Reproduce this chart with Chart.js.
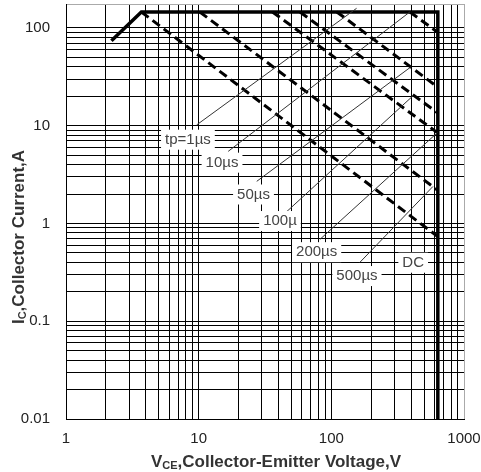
<!DOCTYPE html>
<html>
<head>
<meta charset="utf-8">
<script src="https://cdn.jsdelivr.net/npm/chart.js@4.4.1/dist/chart.umd.min.js"></script>
<style>
  body { margin: 0; background: #fff; }
  #wrap { width: 481px; height: 472px; }
</style>
</head>
<body>
<div id="wrap"><canvas id="soaChart" width="481" height="472"></canvas></div>
<script>
// axis ranges and labelled ticks
const xMin = 1, xMax = 1000;
const yMin = 0.01, yMax = 176;
const xTickLabels = [1, 10, 100, 1000];
const yTickLabels = [0.01, 0.1, 1, 10, 100];

// safe operating area outline (tp = 1us)
const soaV = [2.2, 3.7, 635, 635];
const soaI = [74, 146, 146, 0.01];

// pulse limits (dashed)
const us10V = [391, 630],  us10I = [146, 91];
const us50V = [110, 630],  us50I = [146, 25];
const us100V = [58, 630],  us100I = [146, 13.6];
const us200V = [36, 630],  us200I = [146, 8.5];
const us500V = [10.2, 630], us500I = [146, 2.2];
const dcV = [3.7, 630],    dcI = [146, 0.74];

// leader lines from labels to curves
const lead1V = [9.66, 155],  lead1I = [10.2, 159];
const lead10V = [16.7, 391], lead10I = [5.47, 146];
const lead50V = [27.4, 398], lead50I = [2.70, 40];
const lead100V = [46.3, 412], lead100I = [1.33, 20.2];
const lead200V = [82, 630],  lead200I = [0.687, 8.5];
const lead500V = [164, 583], lead500I = [0.40, 2.39];

// curve labels
const curveNames = ['tp=1µs', '10µs', '50µs', '100µ', '200µs', '500µs', 'DC'];
const nameV = [8.3, 15.0, 25.9, 41.0, 77.5, 156, 414];
const nameI = [7.2, 4.19, 1.98, 1.06, 0.509, 0.29, 0.397];

function pts(vs, is) {
    return vs.map((v, i) => ({ x: v, y: is[i] }));
}

function logGrid(min, max) {
    const vals = [];
    for (let e = Math.floor(Math.log10(min)); Math.pow(10, e) < max; e++) {
        for (let s = 1; s <= 9; s++) {
            const v = parseFloat((s * Math.pow(10, e)).toPrecision(6));
            if (v >= min && v < max) vals.push(v);
        }
    }
    vals.push(max);
    return vals;
}

function solid(data, width) {
    return { data: data, borderColor: '#000', borderWidth: width, showLine: true, pointRadius: 0, fill: false };
}
function dashed(data) {
    return { data: data, borderColor: '#000', borderWidth: 3, borderDash: [9, 5], showLine: true, pointRadius: 0, fill: false };
}
function leader(data) {
    return { data: data, borderColor: '#333', borderWidth: 1, showLine: true, pointRadius: 0, fill: false };
}

const FONT = '"Liberation Sans", Arial, sans-serif';

function drawParts(ctx, parts, cx, cy) {
    let total = 0;
    parts.forEach(p => { ctx.font = p.font; total += ctx.measureText(p.text).width; });
    let x0 = cx - total / 2;
    parts.forEach(p => {
        ctx.font = p.font;
        ctx.fillText(p.text, x0, cy + (p.dy || 0));
        x0 += ctx.measureText(p.text).width;
    });
}

const annotate = {
    id: 'annotate',
    afterDatasetsDraw(chart) {
        const { ctx, scales: { x, y } } = chart;
        ctx.save();
        ctx.font = '15px ' + FONT;
        ctx.textAlign = 'center';
        ctx.textBaseline = 'middle';
        curveNames.forEach((name, i) => {
            const px = x.getPixelForValue(nameV[i]);
            const py = y.getPixelForValue(nameI[i]);
            const w = ctx.measureText(name).width;
            ctx.fillStyle = '#fff';
            ctx.fillRect(px - w / 2 - 4, py - 10, w + 8, 20);
            ctx.fillStyle = '#444';
            ctx.fillText(name, px, py);
        });
        ctx.restore();
    },
    afterDraw(chart) {
        const { ctx } = chart;
        const big = 'bold 17px ' + FONT, small = 'bold 11px ' + FONT;
        ctx.save();
        ctx.fillStyle = '#333';
        ctx.textAlign = 'left';
        ctx.textBaseline = 'middle';
        drawParts(ctx, [
            { text: 'V', font: big },
            { text: 'CE', font: small, dy: 4 },
            { text: ',Collector-Emitter Voltage,V', font: big }
        ], 276, 462);
        ctx.translate(19, 237);
        ctx.rotate(-Math.PI / 2);
        drawParts(ctx, [
            { text: 'I', font: big },
            { text: 'C', font: small, dy: 4 },
            { text: ',Collector Current,A', font: big }
        ], 0, 0);
        ctx.restore();
    }
};

new Chart(document.getElementById('soaChart').getContext('2d'), {
    type: 'scatter',
    data: {
        datasets: [
            leader(pts(lead1V, lead1I)),
            leader(pts(lead10V, lead10I)),
            leader(pts(lead50V, lead50I)),
            leader(pts(lead100V, lead100I)),
            leader(pts(lead200V, lead200I)),
            leader(pts(lead500V, lead500I)),
            dashed(pts(us10V, us10I)),
            dashed(pts(us50V, us50I)),
            dashed(pts(us100V, us100I)),
            dashed(pts(us200V, us200I)),
            dashed(pts(us500V, us500I)),
            dashed(pts(dcV, dcI)),
            solid(pts(soaV, soaI), 3.5)
        ]
    },
    options: {
        responsive: false,
        animation: false,
        layout: { padding: 0 },
        plugins: { legend: { display: false }, tooltip: { enabled: false } },
        scales: {
            x: {
                type: 'logarithmic',
                min: xMin,
                max: xMax,
                afterBuildTicks: s => { s.ticks = logGrid(xMin, xMax).map(v => ({ value: v })); },
                afterFit: s => { s.height = 53; s.paddingLeft = 0; s.paddingRight = 17; },
                grid: {
                    color: c => (c.tick && c.tick.value === xMax ? '#aaa' : '#000'),
                    lineWidth: 1,
                    drawTicks: false
                },
                border: { color: '#000', width: 1 },
                ticks: {
                    autoSkip: false,
                    maxRotation: 0,
                    padding: 11,
                    color: '#222',
                    font: { family: FONT, size: 15 },
                    callback: v => (xTickLabels.includes(v) ? String(v) : '')
                }
            },
            y: {
                type: 'logarithmic',
                min: yMin,
                max: yMax,
                afterBuildTicks: s => { s.ticks = logGrid(yMin, yMax).map(v => ({ value: v })); },
                afterFit: s => { s.width = 66; s.paddingTop = 4; s.paddingBottom = 0; },
                grid: {
                    color: c => (c.tick && c.tick.value === yMax ? '#aaa' : '#000'),
                    lineWidth: 1,
                    drawTicks: false
                },
                border: { color: '#000', width: 1 },
                ticks: {
                    autoSkip: false,
                    padding: 16,
                    color: '#222',
                    font: { family: FONT, size: 15 },
                    callback: v => (yTickLabels.includes(v) ? String(v) : '')
                }
            }
        }
    },
    plugins: [annotate]
});
</script>
</body>
</html>
